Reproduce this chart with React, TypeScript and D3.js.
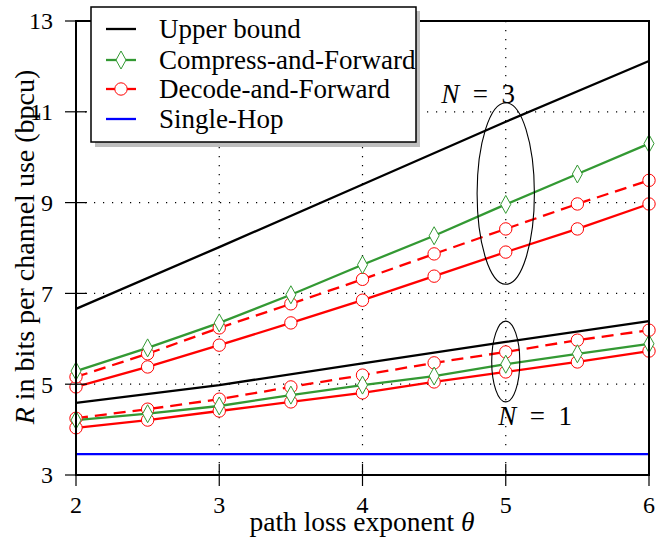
import React from "react";
import * as d3 from "d3";

const thetaFine = [2, 2.5, 3, 3.5, 4, 4.5, 5, 5.5, 6];
const thetaCoarse = [2, 3, 4, 5, 6];
const upperN3 = [6.66, 8.02, 9.4, 10.78, 12.12];
const upperN1 = [4.59, 4.98, 5.46, 5.93, 6.39];
const cfN3 = [5.29, 5.8, 6.35, 6.97, 7.63, 8.27, 8.96, 9.63, 10.3];
const dfN3Dashed = [5.16, 5.67, 6.24, 6.77, 7.31, 7.87, 8.42, 8.97, 9.49];
const dfN3Solid = [4.94, 5.38, 5.86, 6.35, 6.85, 7.38, 7.91, 8.42, 8.97];
const cfN1 = [4.21, 4.35, 4.52, 4.76, 4.98, 5.18, 5.44, 5.67, 5.89];
const dfN1Dashed = [4.25, 4.45, 4.67, 4.94, 5.2, 5.47, 5.71, 5.97, 6.19];
const dfN1Solid = [4.04, 4.21, 4.41, 4.61, 4.81, 5.05, 5.27, 5.49, 5.73];
const singleHopTheta = [2, 6];
const singleHop = [3.46, 3.46];
const xTicks = [2, 3, 4, 5, 6];
const yTicks = [3, 5, 7, 9, 11, 13];
const xGrid = [3, 4, 5];
const yGrid = [5, 7, 9, 11];
const legendLabels = ["Upper bound", "Compress-and-Forward", "Decode-and-Forward", "Single-Hop"];

const GREEN = "#339933";
const RED = "#ff0000";
const BLUE = "#0000ff";
const FONT = "'Liberation Serif', 'DejaVu Serif', serif";

const x = d3.scaleLinear().domain([2, 6]).range([76, 649]);
const y = d3.scaleLinear().domain([3, 13]).range([475, 21]);

const pts = (xs: number[], ys: number[]) => xs.map((t, i) => [t, ys[i]] as [number, number]);
const line = d3
  .line<[number, number]>()
  .x((d) => x(d[0]))
  .y((d) => y(d[1]));

const Diamond = ({ cx, cy }: { cx: number; cy: number }) => (
  <path
    d={`M${cx},${cy - 9}L${cx + 5},${cy}L${cx},${cy + 9}L${cx - 5},${cy}Z`}
    fill="white"
    stroke={GREEN}
    strokeWidth={1}
  />
);
const Circle = ({ cx, cy }: { cx: number; cy: number }) => (
  <circle cx={cx} cy={cy} r={6.2} fill="white" stroke={RED} strokeWidth={1} />
);

export default function App() {
  const series = [
    { data: pts(thetaCoarse, upperN3), color: "black", dash: undefined, marker: null },
    { data: pts(thetaCoarse, upperN1), color: "black", dash: undefined, marker: null },
    { data: pts(singleHopTheta, singleHop), color: BLUE, dash: undefined, marker: null },
    { data: pts(thetaFine, dfN3Solid), color: RED, dash: undefined, marker: "c" },
    { data: pts(thetaFine, dfN3Dashed), color: RED, dash: "12,7", marker: "c" },
    { data: pts(thetaFine, cfN3), color: GREEN, dash: undefined, marker: "d" },
    { data: pts(thetaFine, dfN1Solid), color: RED, dash: undefined, marker: "c" },
    { data: pts(thetaFine, dfN1Dashed), color: RED, dash: "12,7", marker: "c" },
    { data: pts(thetaFine, cfN1), color: GREEN, dash: undefined, marker: "d" },
  ];

  const e3 = { cx: 5, cy: 9.2, rx: 0.2, ry: 2.0 };
  const e1 = { cx: 5, cy: 5.5, rx: 0.098, ry: 0.89 };
  const ell = (e: typeof e3) => ({
    cx: x(e.cx),
    cy: y(e.cy),
    rx: x(e.cx + e.rx) - x(e.cx),
    ry: y(e.cy) - y(e.cy + e.ry),
  });
  const E3 = ell(e3);
  const E1 = ell(e1);

  const legendRows = [29, 60, 89, 119];
  const sp = "\u2002";

  return (
    <svg
      width={657}
      height={538}
      style={{ position: "absolute", left: 0, top: 0, background: "white" }}
      fontFamily={FONT}
    >
      <rect x={0} y={0} width={657} height={538} fill="white" />
      {xGrid.map((t) => (
        <line key={"gx" + t} x1={x(t)} x2={x(t)} y1={y(13)} y2={y(3)} stroke="black" strokeWidth={1.2} strokeDasharray="1.2,7.8" />
      ))}
      {yGrid.map((v) => (
        <line key={"gy" + v} x1={x(2)} x2={x(6)} y1={y(v)} y2={y(v)} stroke="black" strokeWidth={1.2} strokeDasharray="1.2,7.8" />
      ))}
      {series.map((s, i) => (
        <path key={"s" + i} d={line(s.data) || ""} fill="none" stroke={s.color} strokeWidth={2.3} strokeDasharray={s.dash} />
      ))}
      {series.map((s, i) =>
        s.marker
          ? s.data.map((d, j) =>
              s.marker === "c" ? (
                <Circle key={`m${i}-${j}`} cx={x(d[0])} cy={y(d[1])} />
              ) : (
                <Diamond key={`m${i}-${j}`} cx={x(d[0])} cy={y(d[1])} />
              )
            )
          : null
      )}
      <ellipse cx={E3.cx} cy={E3.cy} rx={E3.rx} ry={E3.ry} fill="none" stroke="black" strokeWidth={1.1} />
      <ellipse cx={E1.cx} cy={E1.cy} rx={E1.rx} ry={E1.ry} fill="none" stroke="black" strokeWidth={1.1} />
      <text x={478} y={103} fontSize={27} textAnchor="middle">
        <tspan fontStyle="italic">N</tspan>
        {sp}={sp}3
      </text>
      <text x={535} y={425} fontSize={27} textAnchor="middle">
        <tspan fontStyle="italic">N</tspan>
        {sp}={sp}1
      </text>
      <rect x={x(2)} y={y(13)} width={x(6) - x(2)} height={y(3) - y(13)} fill="none" stroke="black" strokeWidth={2} />
      {yTicks.map((v) => (
        <line key={"ty" + v} x1={x(2) - 11} x2={x(2) + 11} y1={y(v)} y2={y(v)} stroke="black" strokeWidth={1.2} />
      ))}
      {xTicks.map((t) => (
        <line key={"tx" + t} x1={x(t)} x2={x(t)} y1={y(3) - 11} y2={y(3) + 11} stroke="black" strokeWidth={1.2} />
      ))}
      {yTicks.map((v) => (
        <text key={"ly" + v} x={53} y={y(v)} dy="0.35em" fontSize={24} textAnchor="end">
          {v}
        </text>
      ))}
      {xTicks.map((t) => (
        <text key={"lx" + t} x={x(t)} y={513} fontSize={24} textAnchor="middle">
          {t}
        </text>
      ))}
      <text x={362} y={531} fontSize={27.5} textAnchor="middle">
        path loss exponent <tspan fontStyle="italic">θ</tspan>
      </text>
      <text transform="translate(34,247) rotate(-90)" fontSize={28} textAnchor="middle">
        <tspan fontStyle="italic">R</tspan> in bits per channel use (bpcu)
      </text>
      <rect x={95} y={11} width={325} height={136} fill="#bfbfbf" />
      <rect x={91} y={7} width={325} height={135} fill="white" stroke="black" strokeWidth={1.5} />
      {legendLabels.map((lab, i) => {
        const ly = legendRows[i];
        const col = ["black", GREEN, RED, BLUE][i];
        return (
          <g key={"lg" + i}>
            <line x1={106} x2={136} y1={ly} y2={ly} stroke={col} strokeWidth={2.3} />
            {i === 1 && <Diamond cx={121} cy={ly} />}
            {i === 2 && <Circle cx={121} cy={ly} />}
            <text x={159} y={ly} dy="0.33em" fontSize={27}>
              {lab}
            </text>
          </g>
        );
      })}
    </svg>
  );
}
